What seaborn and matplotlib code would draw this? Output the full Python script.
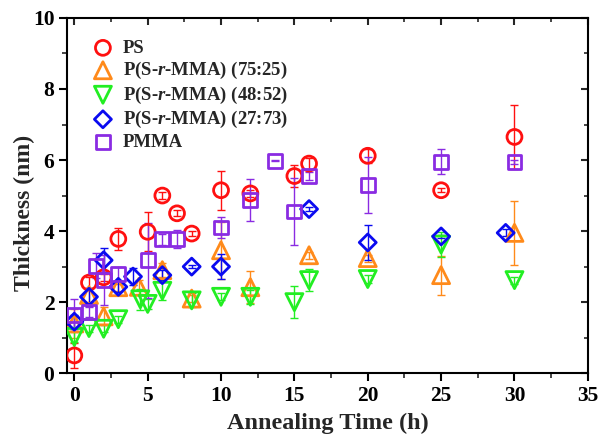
import matplotlib
matplotlib.use("Agg")
import matplotlib.pyplot as plt
import seaborn as sns
import numpy as np
from matplotlib.ticker import MultipleLocator

# ---------------- data ----------------
ps_x = [0, 1, 2, 3, 5, 6, 7, 8, 10, 12, 15, 16, 20, 25, 30]
ps_y = [0.5, 2.55, 2.7, 3.78, 3.98, 5.0, 4.5, 3.93, 5.15, 5.06, 5.55, 5.9, 6.12, 5.15, 6.65]
ps_e = [0.35, 0.15, 0.1, 0.3, 0.55, 0.1, 0.08, 0.08, 0.55, 0.1, 0.3, 0.15, 0.2, 0.05, 0.9]

s75_x = [0, 1, 2, 3, 4.4, 6, 8, 10, 12, 16, 20, 25, 30]
s75_y = [1.4, 2.2, 1.6, 2.42, 2.43, 2.9, 2.1, 3.46, 2.42, 3.32, 3.24, 2.76, 3.95]
s75_e = [0.4, 0.2, 0.25, 0.1, 0.2, 0.2, 0.1, 0.8, 0.45, 0.1, 0.1, 0.55, 0.9]

s48_x = [0, 1, 2, 3, 4.5, 5, 6, 8, 10, 12, 15, 16, 20, 25, 30]
s48_y = [1.02, 1.27, 1.25, 1.52, 2.08, 1.95, 2.32, 2.05, 2.15, 2.15, 2.0, 2.62, 2.65, 3.62, 2.62]
s48_e = [0.15, 0.1, 0.1, 0.1, 0.3, 0.15, 0.25, 0.2, 0.1, 0.2, 0.45, 0.3, 0.1, 0.35, 0.1]

s27_x = [0, 1, 2, 3, 4, 6, 8, 10, 16, 20, 25, 29.4]
s27_y = [1.45, 2.15, 3.18, 2.43, 2.72, 2.76, 3.0, 3.0, 4.62, 3.68, 3.85, 3.95]
s27_e = [0.2, 0.25, 0.33, 0.15, 0.25, 0.15, 0.05, 0.35, 0.05, 0.5, 0.05, 0.1]

pmma_x = [0, 1, 1.5, 2, 3, 5, 6, 7, 10, 12, 13.7, 15, 16, 20, 25, 30]
pmma_y = [1.63, 1.72, 3.02, 2.62, 2.8, 3.18, 3.77, 3.77, 4.1, 4.87, 5.98, 4.55, 5.55, 5.3, 5.95, 5.95]
pmma_e = [0.45, 0.15, 0.35, 0.7, 0.2, 1.05, 0.15, 0.25, 0.3, 0.6, 0.02, 0.95, 0.1, 0.78, 0.35, 0.05]

labels = ["PS", r"P(S-$r$-MMA) (75:25)", r"P(S-$r$-MMA) (48:52)",
          r"P(S-$r$-MMA) (27:73)", "PMMA"]

# ---------------- style ----------------
sns.set_theme(style="ticks")
plt.rcParams["font.family"] = ["Liberation Serif", "DejaVu Serif"]
plt.rcParams["font.weight"] = "bold"
plt.rcParams["mathtext.fontset"] = "custom"
plt.rcParams["mathtext.rm"] = "Liberation Serif:bold"
plt.rcParams["mathtext.it"] = "Liberation Serif:italic:bold"
plt.rcParams["mathtext.bf"] = "Liberation Serif:bold"

fig = plt.figure(figsize=(5.98, 4.37), dpi=100)
ax = fig.add_axes([0.112, 0.146, 0.871, 0.813])

series = [
    (ps_x, ps_y, ps_e, "o", "#ff1010", 115),
    (s75_x, s75_y, s75_e, "^", "#ff8a1a", 150),
    (s48_x, s48_y, s48_e, "v", "#22ee22", 150),
    (s27_x, s27_y, s27_e, "D", "#0a0af0", 75),
    (pmma_x, pmma_y, pmma_e, "s", "#8a2be2", 100),
]

for (x, y, e, m, c, s), lab in zip(series, labels):
    ax.errorbar(x, y, yerr=e, fmt="none", ecolor=c, elinewidth=1.0,
                capsize=3, capthick=1.0, zorder=2)
    sns.scatterplot(x=x, y=y, marker=m, s=s, color=c, facecolors="none",
                    edgecolor=c, linewidth=2.0, ax=ax, label=lab, zorder=3)

ax.set_xlim(-0.5, 35)
ax.set_ylim(0, 10)
ax.xaxis.set_major_locator(MultipleLocator(5))
ax.xaxis.set_minor_locator(MultipleLocator(2.5))
ax.yaxis.set_major_locator(MultipleLocator(2))
ax.yaxis.set_minor_locator(MultipleLocator(1))

for sp in ax.spines.values():
    sp.set_linewidth(1.5)
    sp.set_color("black")

ax.tick_params(which="major", direction="out", length=6, width=1.5,
               labelsize=15.5, colors="black", pad=3)
ax.tick_params(which="minor", direction="out", length=3.5, width=1.2)
# mirrored inward ticks on top/right
axt = ax.secondary_xaxis("top")
axt.xaxis.set_major_locator(MultipleLocator(5))
axt.xaxis.set_minor_locator(MultipleLocator(2.5))
axt.tick_params(which="major", direction="in", length=5, width=1.5, labeltop=False)
axt.tick_params(which="minor", direction="in", length=3, width=1.2)
axr = ax.secondary_yaxis("right")
axr.yaxis.set_major_locator(MultipleLocator(2))
axr.yaxis.set_minor_locator(MultipleLocator(1))
axr.tick_params(which="major", direction="in", length=5, width=1.5, labelright=False)
axr.tick_params(which="minor", direction="in", length=3, width=1.2)

for lbl in ax.get_xticklabels() + ax.get_yticklabels():
    lbl.set_fontweight("bold")

ax.set_xlabel("Annealing Time (h)", fontsize=17.5, fontweight="bold")
ax.set_ylabel("Thickness (nm)", fontsize=17, fontweight="bold")
ax.xaxis.set_label_coords(0.5, -0.112)
ax.yaxis.set_label_coords(-0.062, 0.45)

leg = ax.legend(loc="upper left", frameon=False,
                prop={"weight": "bold", "size": 13.5},
                handlelength=1.2, handletextpad=0.47, labelspacing=0.18,
                borderaxespad=0.0, bbox_to_anchor=(0.033, 0.96), scatterpoints=1)

fig.savefig("out.png", dpi=100)
